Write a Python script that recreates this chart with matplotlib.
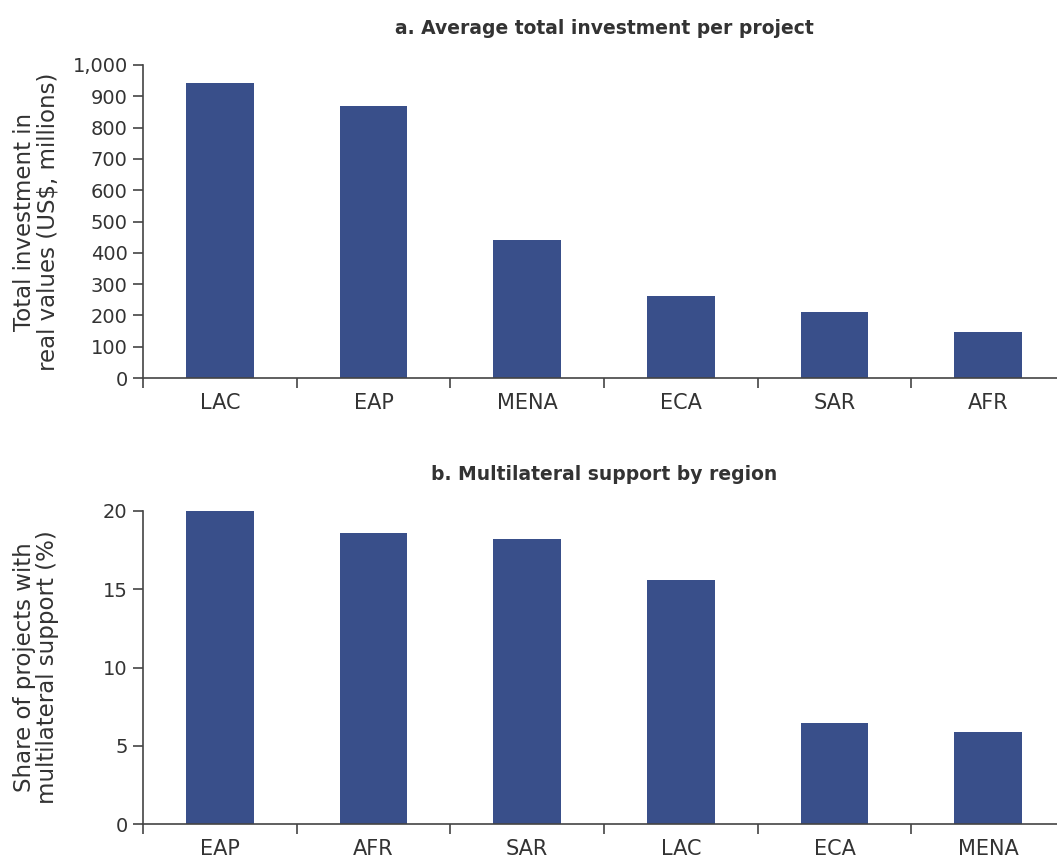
import numpy as np
import matplotlib.pyplot as plt
from matplotlib.ticker import FuncFormatter

# Panel a: average total investment per project (US$ millions)
regions_a = ['LAC', 'EAP', 'MENA', 'ECA', 'SAR', 'AFR']
invest_a = [942, 868, 441, 262, 211, 147]

# Panel b: share of projects with multilateral support (%)
regions_b = ['EAP', 'AFR', 'SAR', 'LAC', 'ECA', 'MENA']
share_b = [20.0, 18.6, 18.2, 15.6, 6.45, 5.9]

BAR_COLOR = '#394f8a'
TEXT_COLOR = '#333333'
SPINE_COLOR = '#444444'

plt.rcParams['font.family'] = ['DejaVu Sans']

W, H = 1057, 858
fig = plt.figure(figsize=(W / 100, H / 100), dpi=100)


def px_axes(left, top, right, bottom):
    return fig.add_axes([left / W, 1 - bottom / H, (right - left) / W, (bottom - top) / H])


def style_panel(ax, cats, vals, ylim, yticks, title, ylabel, fmt=None):
    x = np.arange(len(cats))
    ax.bar(x, vals, width=0.44, color=BAR_COLOR)
    ax.set_xlim(-0.5, len(cats) - 0.5)
    ax.set_ylim(*ylim)
    ax.set_yticks(yticks)
    if fmt:
        ax.yaxis.set_major_formatter(FuncFormatter(fmt))
    ax.set_xticks(x)
    ax.set_xticklabels(cats)
    ax.set_xticks(np.arange(len(cats) + 1) - 0.5, minor=True)
    ax.tick_params(axis='x', which='major', length=0, pad=11, labelsize=15, colors=TEXT_COLOR)
    ax.tick_params(axis='x', which='minor', length=7, width=1.2, color=SPINE_COLOR, direction='out')
    ax.tick_params(axis='y', length=7, width=1.2, color=SPINE_COLOR, labelsize=14,
                   labelcolor=TEXT_COLOR, pad=4)
    for s in ['top', 'right']:
        ax.spines[s].set_visible(False)
    for s in ['left', 'bottom']:
        ax.spines[s].set_color(SPINE_COLOR)
        ax.spines[s].set_linewidth(1.2)
    ax.set_title(title, fontsize=13.5, fontweight='bold', color=TEXT_COLOR, pad=22)
    ax.set_ylabel(ylabel, fontsize=16.5, color=TEXT_COLOR, linespacing=1.0)
    ax.yaxis.set_label_coords(-0.091, 0.5)


ax1 = px_axes(143, 65, 1065, 378)
style_panel(ax1, regions_a, invest_a, (0, 1000), np.arange(0, 1001, 100),
            'a. Average total investment per project',
            'Total investment in\nreal values (US$, millions)',
            fmt=lambda v, p: f'{int(v):,}')

ax2 = px_axes(143, 511, 1065, 824)
style_panel(ax2, regions_b, share_b, (0, 20), np.arange(0, 21, 5),
            'b. Multilateral support by region',
            'Share of projects with\nmultilateral support (%)')

fig.savefig('out.png', dpi=100)
